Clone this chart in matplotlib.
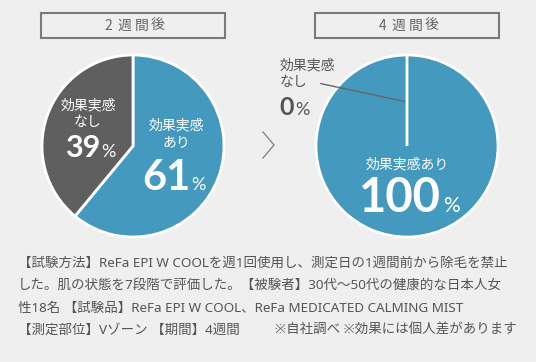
import matplotlib.pyplot as plt
from matplotlib.patches import Rectangle

plt.rcParams['font.family'] = ['Noto Sans CJK JP', 'DejaVu Sans']

# data
titles = ['2週間後', '4週間後']
labels = ['効果実感あり', '効果実感なし']
week2 = [61, 39]
week4 = [100, 0]
note_lines = [
    '【試験方法】ReFa EPI W COOLを週1回使用し、測定日の1週間前から除毛を禁止',
    'した。肌の状態を7段階で評価した。【被験者】30代〜50代の健康的な日本人女',
    '性18名 【試験品】ReFa EPI W COOL、ReFa MEDICATED CALMING MIST',
]
note_last_left = '【測定部位】Vゾーン 【期間】4週間'
note_last_right = '※自社調べ ※効果には個人差があります'

bg = '#efefef'
blue = '#4499bf'
dark = '#5f5f5f'
txt = '#555555'
num_font = ['Lato', 'Noto Sans CJK JP']
note_font = ['Noto Sans', 'Noto Sans CJK JP']

W, H = 536, 362
fig = plt.figure(figsize=(W / 100, H / 100), dpi=100, facecolor=bg)
ax = fig.add_axes([0, 0, 1, 1])
ax.set_facecolor(bg)

cx = [133, 407]
cy = 216
r = 91

# pies
w1, _ = ax.pie(week2, colors=[blue, dark], startangle=90, counterclock=False,
               center=(cx[0], cy), radius=r,
               wedgeprops=dict(edgecolor='white', linewidth=2))
w2, _ = ax.pie(week4, colors=[blue, blue], startangle=90, counterclock=False,
               center=(cx[1], cy), radius=r,
               wedgeprops=dict(edgecolor='white', linewidth=2))

# title boxes (letter spaced)
for i, t in enumerate(titles):
    ax.add_patch(Rectangle((cx[i] - 92, H - 38), 184, 25, facecolor='none',
                           edgecolor='#7a7a7a', linewidth=1.5))
    n = len(t)
    for j, ch in enumerate(t):
        ax.text(cx[i] + (j - (n - 1) / 2) * 16.5, H - 25.5, ch, ha='center',
                va='center', fontsize=10, color='#666666')

# arrow between pies
ax.plot([263, 274, 263], [H - 132, H - 145, H - 158], color='#888888', lw=1)

# left pie labels
ax.text(88, H - 114, '効果実感\nなし', ha='center', va='center', fontsize=10,
        color='white', linespacing=1.2)
ax.text(100, H - 157, f'{week2[1]}', ha='right', va='baseline', fontsize=22,
        fontweight='bold', color='white', family=num_font)
ax.text(101, H - 157, '%', ha='left', va='baseline', fontsize=13,
        color='white', family=num_font)

ax.text(176, H - 134, '効果実感\nあり', ha='center', va='center', fontsize=10,
        color='white', linespacing=1.2)
ax.text(190, H - 190, f'{week2[0]}', ha='right', va='baseline', fontsize=30,
        fontweight='bold', color='white', family=num_font)
ax.text(191, H - 190, '%', ha='left', va='baseline', fontsize=13,
        color='white', family=num_font)

# right pie labels
ax.text(280, H - 74, '効果実感\nなし', ha='left', va='center', fontsize=10,
        color=txt, linespacing=1.2)
ax.text(294, H - 115, f'{week4[1]}', ha='right', va='baseline', fontsize=18,
        fontweight='bold', color=txt, family=num_font)
ax.text(295, H - 115, '%', ha='left', va='baseline', fontsize=13,
        color=txt, family=num_font)
ax.annotate('', xy=(cx[1], H - 102), xytext=(318, H - 83),
            arrowprops=dict(arrowstyle='-', color='#666666', lw=1))

ax.text(cx[1], H - 164, '効果実感あり', ha='center', va='center', fontsize=10,
        color='white')
ax.text(441, H - 212, f'{week4[0]}', ha='right', va='baseline', fontsize=34,
        fontweight='bold', color='white', family=num_font)
ax.text(443, H - 212, '%', ha='left', va='baseline', fontsize=15,
        color='white', family=num_font)

# footnote
for k, line in enumerate(note_lines):
    ax.text(18, H - 263 - 22.5 * k, line, ha='left', va='center', fontsize=9.7,
            color=txt, family=note_font)
ax.text(18, H - 330.5, note_last_left, ha='left', va='center', fontsize=9.7,
        color=txt, family=note_font)
ax.text(517, H - 330.5, note_last_right, ha='right', va='center', fontsize=9.7,
        color=txt, family=note_font)

ax.set_xlim(0, W)
ax.set_ylim(0, H)
ax.set_aspect('auto')
ax.axis('off')

fig.savefig('out.png', dpi=100, facecolor=bg)
